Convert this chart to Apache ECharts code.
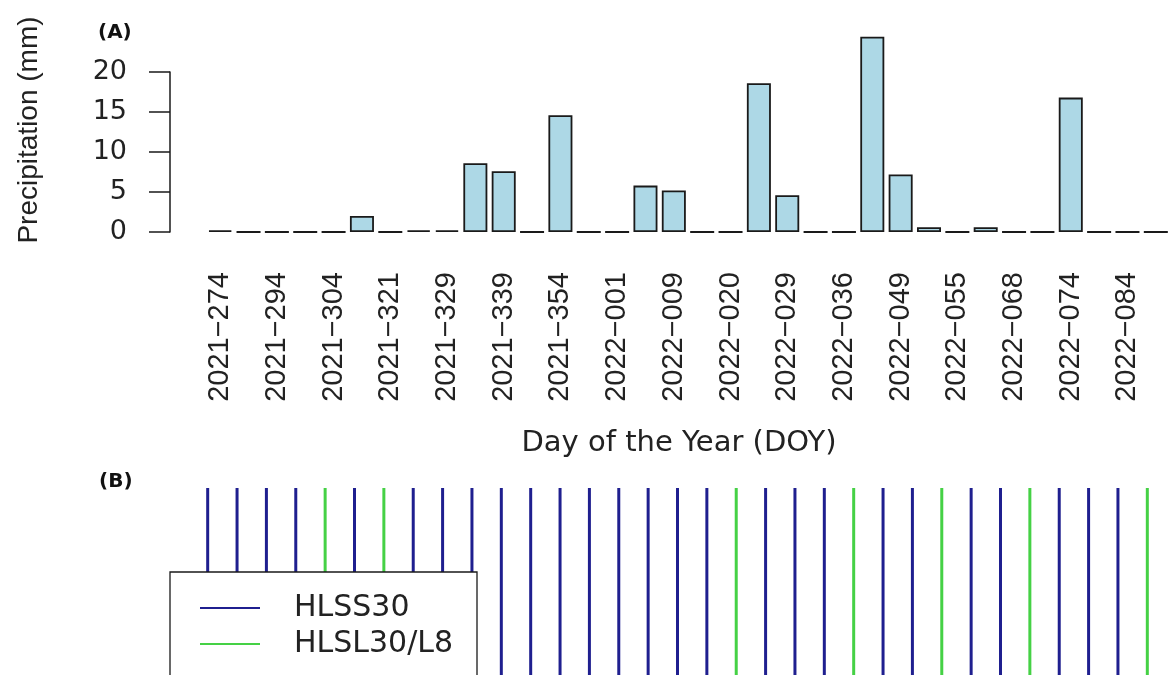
<!DOCTYPE html>
<html>
<head>
<meta charset="utf-8">
<script src="https://cdn.jsdelivr.net/npm/echarts@6/dist/echarts.min.js"></script>
<style>
html,body{margin:0;padding:0;background:#ffffff;}
#chart{width:1170px;height:675px;}
</style>
</head>
<body>
<div id="chart"></div>
<script>
// ---- Panel A data: precipitation per HLS acquisition day ----
const categories = [
  '2021-274','2021-284','2021-294','2021-299','2021-304','2021-314','2021-321','2021-324',
  '2021-329','2021-334','2021-339','2021-344','2021-354','2021-359','2022-001','2022-004',
  '2022-009','2022-014','2022-020','2022-024','2022-029','2022-034','2022-036','2022-044',
  '2022-049','2022-051','2022-055','2022-064','2022-068','2022-071','2022-074','2022-079',
  '2022-084','2022-089'
];
const precipitation = [
  0.2, 0, 0, 0, 0, 2.0, 0, 0.2,
  0.2, 8.6, 7.6, 0, 14.6, 0, 0, 5.8,
  5.2, 0, 0, 18.6, 4.6, 0, 0, 24.4,
  7.2, 0.6, 0, 0.6, 0, 0, 16.8, 0,
  0, 0
];
const yTicks = [0, 5, 10, 15, 20];

// ---- Panel B data: sensor of each acquisition ----
const sceneIds = [
  '1','2','3','4','5','6','7','8','9','10','11','12','13','14','15','16','17',
  '18','19','20','21','22','23','24','25','26','27','28','29','30','31','32','33'
];
const sensorSequence = [
  'S','S','S','S','L','S','L','S','S','S',
  'S','S','S','S','S','S','S','S','L','S',
  'S','S','L','S','S','L','S','S','L','S',
  'S','S','L'
];
const sensorNames = { S: 'HLSS30', L: 'HLSL30/L8' };

const ink = '#1a1a1a';
const textCol = '#222222';

const chart = echarts.init(document.getElementById('chart'), null, { renderer: 'canvas' });

const option = {
  animation: false,
  backgroundColor: '#ffffff',
  graphic: [
    { type: 'text', x: 98, y: 33, style: { text: '(A)', fontSize: 20, fontWeight: 'bold', fontFamily: 'DejaVu Sans', fill: '#111', verticalAlign: 'middle' } },
    { type: 'text', x: 99, y: 482, style: { text: '(B)', fontSize: 20, fontWeight: 'bold', fontFamily: 'DejaVu Sans', fill: '#111', verticalAlign: 'middle' } },
    // legend frame (extends past the bottom edge of the picture, as in the original)
    { type: 'rect', z: 10, shape: { x: 170, y: 572, width: 307, height: 160 },
      style: { fill: '#ffffff', stroke: ink, lineWidth: 1.3 } }
  ],
  legend: {
    data: [sensorNames.S, sensorNames.L],
    orient: 'vertical',
    left: 170,
    top: 572,
    z: 20,
    padding: [21, 10, 5, 30],
    itemGap: 6,
    itemWidth: 60,
    itemHeight: 2,
    icon: 'rect',
    selectedMode: false,
    textStyle: { fontFamily: 'DejaVu Sans', fontSize: 30, color: textCol, lineHeight: 30, padding: [0, 0, 0, 29] }
  },
  grid: [
    { left: 206, top: 72, width: 972, height: 160 },
    { left: 193, top: 488, width: 969, height: 240 }
  ],
  xAxis: [
    {
      gridIndex: 0,
      type: 'category',
      data: categories,
      axisLine: { show: false },
      axisTick: { show: false },
      axisLabel: {
        interval: 1,
        rotate: 90,
        margin: 40,
        fontFamily: 'Liberation Sans',
        fontSize: 29,
        color: textCol,
        formatter: v => v.replace('-', '\u2212')
      },
      name: 'Day of the Year (DOY)',
      nameLocation: 'middle',
      nameGap: 197,
      nameTextStyle: { fontFamily: 'DejaVu Sans', fontSize: 29, color: textCol, padding: [0, 18, 0, 0] }
    },
    {
      gridIndex: 1,
      type: 'category',
      data: sceneIds,
      show: false
    }
  ],
  yAxis: [
    {
      gridIndex: 0,
      type: 'value',
      min: yTicks[0],
      max: yTicks[yTicks.length - 1],
      interval: yTicks[1] - yTicks[0],
      offset: 36,
      axisLine: { show: true, lineStyle: { color: ink, width: 1.5 } },
      axisTick: { show: true, length: 21, lineStyle: { color: ink, width: 1.5 } },
      axisLabel: { margin: 43, fontFamily: 'DejaVu Sans', fontSize: 27, color: textCol },
      splitLine: { show: false },
      name: 'Precipitation (mm)',
      nameLocation: 'middle',
      nameGap: 127,
      nameTextStyle: { fontFamily: 'Liberation Sans', fontSize: 28, color: textCol, padding: [0, 0, 0, 44] }
    },
    {
      gridIndex: 1,
      type: 'value',
      min: 0,
      max: 1,
      show: false
    }
  ],
  series: [
    {
      name: 'Precipitation',
      type: 'bar',
      xAxisIndex: 0,
      yAxisIndex: 0,
      data: precipitation,
      barWidth: 24,
      clip: false,
      silent: true,
      itemStyle: { color: '#ADD8E6', borderColor: ink, borderWidth: 1.8 }
    },
    {
      name: sensorNames.S,
      type: 'bar',
      xAxisIndex: 1,
      yAxisIndex: 1,
      data: sensorSequence.map(s => (s === 'S' ? 1 : null)),
      barWidth: 3,
      barGap: '-100%',
      silent: true,
      itemStyle: { color: '#1f1f8f' }
    },
    {
      name: sensorNames.L,
      type: 'bar',
      xAxisIndex: 1,
      yAxisIndex: 1,
      data: sensorSequence.map(s => (s === 'L' ? 1 : null)),
      barWidth: 3,
      barGap: '-100%',
      silent: true,
      itemStyle: { color: '#45d145' }
    }
  ]
};

chart.setOption(option);
</script>
</body>
</html>
